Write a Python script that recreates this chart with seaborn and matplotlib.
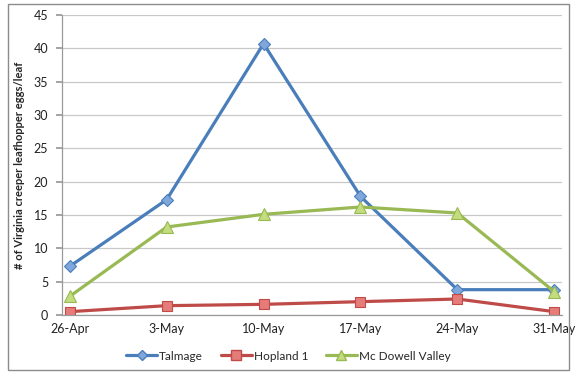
import pandas as pd
import matplotlib.pyplot as plt
import seaborn as sns

dates = ['26-Apr', '3-May', '10-May', '17-May', '24-May', '31-May']
talmage = [7.3, 17.3, 40.7, 17.8, 3.8, 3.8]
hopland = [0.5, 1.4, 1.6, 2.0, 2.4, 0.5]
mcdowell = [2.8, 13.2, 15.1, 16.2, 15.3, 3.5]
sites = ['Talmage', 'Hopland 1', 'Mc Dowell Valley']

sns.set_theme(style="white")
plt.rcParams['font.family'] = ['Lato', 'DejaVu Sans']

rows = []
for site, vals in zip(sites, [talmage, hopland, mcdowell]):
    for i, (d, v) in enumerate(zip(dates, vals)):
        rows.append({'pos': i, 'date': d, 'site': site, 'eggs': v})
df = pd.DataFrame(rows)

line_colors = {'Talmage': '#4A7EBB', 'Hopland 1': '#BE4B48', 'Mc Dowell Valley': '#98B954'}
face_colors = {'Talmage': '#7FA7DC', 'Hopland 1': '#E57C79', 'Mc Dowell Valley': '#C3DC7E'}
markers = {'Talmage': 'D', 'Hopland 1': 's', 'Mc Dowell Valley': '^'}
msize = {'Talmage': 6, 'Hopland 1': 7.5, 'Mc Dowell Valley': 8}

fig = plt.figure(figsize=(5.77, 3.73), dpi=100)
ax = fig.add_axes([62 / 577, 1 - 315 / 373, 500 / 577, 300 / 373])

sns.lineplot(data=df, x='pos', y='eggs', hue='site', style='site',
             palette=line_colors, markers=markers, dashes=False,
             linewidth=2.3, ax=ax, legend=False)

for line, site in zip(ax.lines, sites):
    line.set_markerfacecolor(face_colors[site])
    line.set_markeredgecolor(line_colors[site])
    line.set_markersize(msize[site])
    line.set_markeredgewidth(0.8)

ax.set_xlim(-0.08, 5.08)
ax.set_ylim(0, 45)
ax.set_yticks(range(0, 46, 5))
ax.set_xticks(range(len(dates)))
ax.set_xticklabels(dates)
ax.tick_params(axis='both', labelsize=9, colors='#222222', length=0, pad=6)
ax.tick_params(axis='y', length=4, color='#999999', direction='out', left=True)
ax.grid(axis='y', color='#C8C8C8', linewidth=0.9)
ax.set_axisbelow(True)
for s in ['top', 'right']:
    ax.spines[s].set_visible(False)
for s in ['left', 'bottom']:
    ax.spines[s].set_color('#999999')
    ax.spines[s].set_linewidth(0.9)
ax.set_xlabel('')
ax.set_ylabel('# of Virginia creeper leafhopper eggs/leaf', fontsize=8, fontweight='bold', labelpad=6)

handles = [plt.Line2D([], [], color=line_colors[s], marker=markers[s], markersize=msize[s] - 1,
                      markerfacecolor=face_colors[s], markeredgecolor=line_colors[s],
                      linewidth=2.3) for s in sites]
fig.legend(handles, sites, loc='center', bbox_to_anchor=(0.5, 1 - 356 / 373), ncol=3,
           frameon=False, fontsize=8.5, handlelength=2.6, columnspacing=1.5, handletextpad=0.2)

border = plt.Rectangle((8 / 577, 3 / 373), 561 / 577, 366 / 373, transform=fig.transFigure,
                       fill=False, edgecolor='#8C8C8C', linewidth=1.0)
fig.patches.append(border)

fig.savefig('out.png', dpi=100)
